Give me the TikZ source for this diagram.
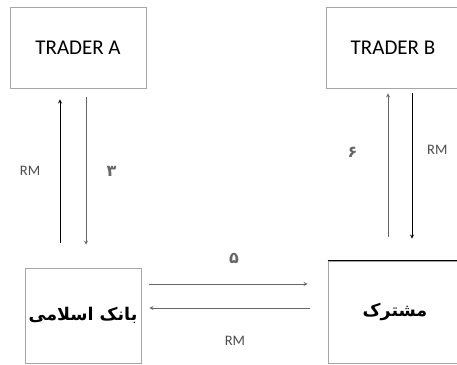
\documentclass[tikz,border=0pt]{standalone}
\usepackage{fontspec}
\setmainfont{Carlito}
\newfontfamily\arabicfont[Script=Arabic]{DejaVu Sans}
\TeXXeTstate=1
\definecolor{khung}{gray}{0.65}
\definecolor{muiten}{gray}{0.4}
\tikzset{
	box/.style={draw=khung,line width=0.8pt,inner sep=0pt},
	muiten/.style={-stealth,line width=0.8pt},
	nhan/.style={font=\fontsize{14.5}{14.5}\selectfont,text=black!70},
	so/.style={font=\arabicfont\bfseries\fontsize{16}{16}\selectfont}
}
\begin{document}
\begin{tikzpicture}[x=1pt,y=-1pt]
	\useasboundingbox (0,0) rectangle (457,364);
	%Khung 1
	\node[box,minimum width=136,minimum height=81,font=\fontsize{21}{21}\selectfont] (traderA) at (78,47.5) {TRADER A};
	%Khung 2
	\node[box,minimum width=134,minimum height=81,font=\fontsize{21}{21}\selectfont] (traderB) at (393,47.5) {TRADER B};
	%Khung 3
	\node[box,minimum width=116,minimum height=95,font=\arabicfont\bfseries\fontsize{17.5}{17.5}\selectfont] (bank) at (83,315.5) {\beginR بانک اسلامی\endR};
	%Khung 4
	\node[box,minimum width=134,minimum height=102,font=\arabicfont\bfseries\fontsize{17.5}{17.5}\selectfont] (customer) at (395,312) {\beginR مشترک\endR};
	\draw[line width=1.2pt] (customer.north west) -- (customer.north east);
	%Mui ten 1,2
	\draw[muiten] ([shift={(-23,-25)}]bank.north) -- ([shift={(-18,11)}]traderA.south) node[nhan,pos=0.5,left=16pt]{RM};
	\draw[muiten,color=muiten] ([shift={(8,9)}]traderA.south) -- ([shift={(3,-23)}]bank.north) node[so,pos=0.5,right=17pt]{\beginR ۳\endR};
	%Mui ten 3,4
	\draw[muiten,color=muiten] ([shift={(-7,-24)}]customer.north) -- ([shift={(-5,5)}]traderB.south) node[so,pos=0.59,left=27pt]{\beginR ۶\endR};
	\draw[muiten] ([shift={(19,5)}]traderB.south) -- ([shift={(17,-22)}]customer.north) node[nhan,pos=0.39,right=11.5pt]{RM};
	%Mui ten 5,6
	\draw[muiten,color=muiten] ([shift={(8,-31.5)}]bank.east) -- ([shift={(-20,-28)}]customer.west) node[so,pos=0.535,above=17pt]{\beginR ۵\endR};
	\draw[muiten,color=muiten] ([shift={(-18,-4)}]customer.west) -- ([shift={(8,-7.5)}]bank.east) node[nhan,pos=0.466,below=24pt]{RM};
\end{tikzpicture}
\end{document}
